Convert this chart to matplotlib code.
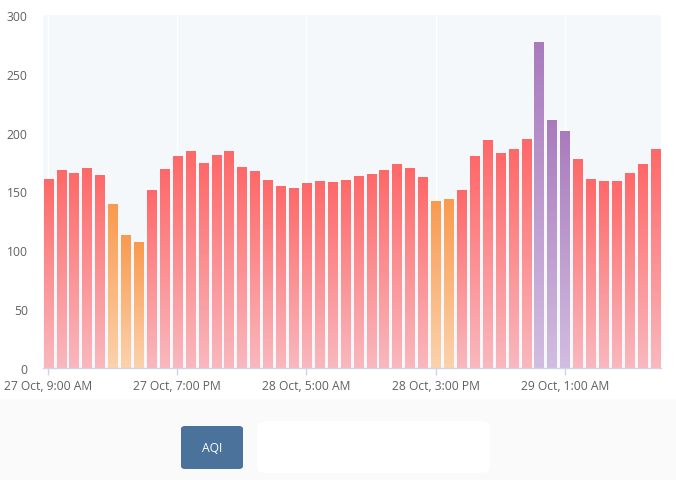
import matplotlib
matplotlib.use("Agg")
import matplotlib.pyplot as plt
import numpy as np
from matplotlib.patches import FancyBboxPatch, Rectangle
from matplotlib.colors import LinearSegmentedColormap

# ---- data ----
aqi = [161, 168, 166, 170, 164, 139, 113, 107, 151, 169,
       180, 184, 174, 181, 184, 171, 167, 160, 155, 153,
       157, 159, 158, 160, 163, 165, 168, 173, 170, 162,
       142, 144, 151, 180, 194, 183, 186, 195, 277, 211,
       201, 178, 161, 159, 159, 166, 173, 186]
tick_idx = [0, 10, 20, 30, 40]
tick_labels = ["27 Oct, 9:00 AM", "27 Oct, 7:00 PM", "28 Oct, 5:00 AM",
               "28 Oct, 3:00 PM", "29 Oct, 1:00 AM"]
y_ticks = [0, 50, 100, 150, 200, 250, 300]
legend_label = "AQI"

# category colours (top, bottom of gradient)
cat_colors = {
    "orange": ("#f99a4e", "#fcd2ac"),
    "red": ("#ff6868", "#f9b8be"),
    "purple": ("#a97bbd", "#d2bde0"),
}

def category(v):
    if v <= 150:
        return "orange"
    if v <= 200:
        return "red"
    return "purple"

W, H = 676, 481
fig = plt.figure(figsize=(W / 100, H / 100), dpi=100)
fig.patch.set_facecolor("white")

# bottom light area
fig.patches.append(Rectangle((0, 0), 1, 81 / H, transform=fig.transFigure,
                             facecolor="#fafafa", edgecolor="none", zorder=0))

ax = fig.add_axes([43 / W, 112 / H, 618 / W, 353 / H])
ax.set_facecolor("#f5f8fa")
x = np.arange(len(aqi))
width = 0.7
bars = ax.bar(x, aqi, width=width, color="none", edgecolor="none", zorder=2)

grad = np.linspace(1, 0, 256).reshape(-1, 1)
for b, v in zip(bars, aqi):
    top, bot = cat_colors[category(v)]
    cmap = LinearSegmentedColormap.from_list("g", [bot, top])
    x0 = b.get_x()
    im = ax.imshow(grad, cmap=cmap, aspect="auto", extent=[x0, x0 + width, 0, v],
                   origin="upper", zorder=2, interpolation="bilinear")
    im.set_clip_path(b)

ax.set_xlim(-0.4, len(aqi) - 0.55)
ax.set_ylim(0, 300)
ax.set_xticks(tick_idx)
ax.set_xticklabels(tick_labels)
ax.set_yticks(y_ticks)

for s in ["top", "right", "left"]:
    ax.spines[s].set_visible(False)
ax.spines["bottom"].set_color("#ccd6eb")
ax.spines["bottom"].set_linewidth(1)
ax.spines["bottom"].set_zorder(3)

ax.grid(axis="x", color="white", linewidth=1, zorder=1)
ax.grid(axis="y", visible=False)
ax.set_axisbelow(True)

ax.tick_params(axis="y", length=0, pad=11, labelsize=8.7, labelcolor="#606060")
ax.tick_params(axis="x", length=5, width=1, color="#ccd6eb", pad=3,
               labelsize=8.7, labelcolor="#606060")
for lab in ax.get_xticklabels() + ax.get_yticklabels():
    lab.set_fontfamily("Open Sans")

# legend button
btn = FancyBboxPatch((181 / W, (H - 470) / H), 62 / W, 43 / H,
                     boxstyle="round,pad=0,rounding_size=0.006",
                     transform=fig.transFigure, facecolor="#4a729a",
                     edgecolor="none", zorder=5)
fig.patches.append(btn)
fig.text(212 / W, (H - 449) / H, legend_label, color="white", ha="center",
         va="center", fontsize=8.7, fontfamily="Open Sans", zorder=6)

# white blob area
blob = FancyBboxPatch((257 / W, (H - 474) / H), 233 / W, 52 / H,
                      boxstyle="round,pad=0,rounding_size=0.015",
                      transform=fig.transFigure, facecolor="white",
                      edgecolor="none", zorder=5)
fig.patches.append(blob)

fig.savefig("out.png", dpi=100, facecolor=fig.get_facecolor())
